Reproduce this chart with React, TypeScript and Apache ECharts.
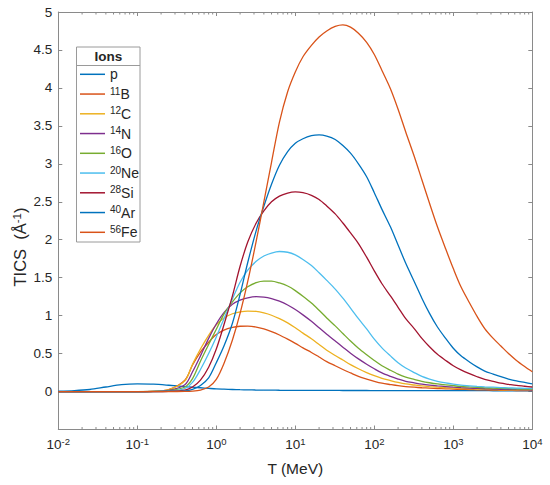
import React, { useEffect, useRef } from "react";
import * as echarts from "echarts";

// Kinetic energy T (MeV) sample points (0.1 decade apart above 0.4 MeV, 0.2 below)
const T = [0.01, 0.016, 0.025, 0.04, 0.063, 0.1, 0.16, 0.25, 0.4, 0.5, 0.63, 0.8, 1, 1.25, 1.6, 2, 2.5, 3.2, 4, 5, 6.3, 8, 10, 12.5, 16, 20, 25, 32, 40, 50, 63, 80, 100, 125, 160, 200, 250, 320, 400, 500, 630, 800, 1000, 1250, 1600, 2000, 2500, 3200, 4000, 5000, 6300, 8000, 10000];

const ionMass = ["", "11", "12", "14", "16", "20", "28", "40", "56"];
const ionSymbol = ["p", "B", "C", "N", "O", "Ne", "Si", "Ar", "Fe"];
const ionColors = ["#0072BD", "#D95319", "#EDB120", "#7E2F8E", "#77AC30", "#4DBEEE", "#A2142F", "#0072BD", "#D95319"];

// TICS (1/Å)
const ticsP = [0.005, 0.012, 0.027, 0.06, 0.09, 0.1, 0.097, 0.083, 0.065, 0.057, 0.05, 0.042, 0.035, 0.031, 0.027, 0.024, 0.022, 0.02, 0.019, 0.018, 0.017, 0.0165, 0.016, 0.0155, 0.015, 0.015, 0.015, 0.0145, 0.014, 0.014, 0.014, 0.0135, 0.013, 0.013, 0.013, 0.0125, 0.012, 0.012, 0.012, 0.012, 0.012, 0.0115, 0.011, 0.011, 0.011, 0.011, 0.011, 0.0105, 0.01, 0.01, 0.01, 0.01, 0.01];
const ticsB = [0, 0, 0, 0, 0, 0, 0.003, 0.025, 0.15, 0.35, 0.52, 0.65, 0.75, 0.81, 0.845, 0.86, 0.862, 0.85, 0.825, 0.79, 0.745, 0.69, 0.635, 0.575, 0.515, 0.455, 0.395, 0.34, 0.29, 0.245, 0.2, 0.165, 0.135, 0.11, 0.092, 0.077, 0.066, 0.057, 0.05, 0.045, 0.04, 0.036, 0.032, 0.029, 0.026, 0.023, 0.021, 0.019, 0.017, 0.015, 0.014, 0.013, 0.012];
const ticsC = [0, 0, 0, 0, 0, 0, 0.003, 0.025, 0.14, 0.36, 0.56, 0.74, 0.88, 0.97, 1.025, 1.05, 1.06, 1.055, 1.035, 1.005, 0.96, 0.905, 0.84, 0.77, 0.695, 0.62, 0.545, 0.475, 0.415, 0.355, 0.3, 0.25, 0.21, 0.175, 0.145, 0.12, 0.1, 0.086, 0.074, 0.065, 0.057, 0.05, 0.045, 0.04, 0.036, 0.032, 0.029, 0.026, 0.023, 0.02, 0.018, 0.016, 0.015];
const ticsN = [0, 0, 0, 0, 0, 0, 0.002, 0.015, 0.09, 0.26, 0.47, 0.7, 0.89, 1.04, 1.15, 1.205, 1.235, 1.25, 1.245, 1.225, 1.19, 1.14, 1.08, 1.01, 0.925, 0.84, 0.755, 0.665, 0.585, 0.505, 0.43, 0.36, 0.3, 0.245, 0.2, 0.165, 0.135, 0.115, 0.098, 0.085, 0.075, 0.066, 0.058, 0.052, 0.046, 0.041, 0.037, 0.033, 0.03, 0.027, 0.024, 0.022, 0.02];
const ticsO = [0, 0, 0, 0, 0, 0, 0.001, 0.01, 0.06, 0.17, 0.4, 0.62, 0.82, 1.02, 1.18, 1.3, 1.38, 1.435, 1.455, 1.455, 1.43, 1.39, 1.33, 1.255, 1.165, 1.07, 0.97, 0.865, 0.765, 0.665, 0.57, 0.485, 0.41, 0.34, 0.28, 0.23, 0.19, 0.16, 0.135, 0.116, 0.1, 0.087, 0.077, 0.068, 0.061, 0.055, 0.049, 0.045, 0.041, 0.038, 0.035, 0.032, 0.03];
const ticsNe = [0, 0, 0, 0, 0, 0, 0.001, 0.006, 0.04, 0.12, 0.29, 0.5, 0.72, 0.96, 1.22, 1.44, 1.6, 1.715, 1.785, 1.825, 1.845, 1.835, 1.8, 1.74, 1.66, 1.565, 1.465, 1.35, 1.23, 1.1, 0.96, 0.825, 0.69, 0.575, 0.47, 0.38, 0.31, 0.25, 0.2, 0.165, 0.135, 0.113, 0.097, 0.085, 0.076, 0.068, 0.062, 0.057, 0.052, 0.048, 0.045, 0.042, 0.04];
const ticsSi = [0, 0, 0, 0, 0, 0, 0, 0.003, 0.02, 0.06, 0.15, 0.32, 0.56, 0.88, 1.26, 1.65, 1.97, 2.22, 2.38, 2.5, 2.575, 2.615, 2.63, 2.62, 2.585, 2.53, 2.445, 2.34, 2.22, 2.09, 1.95, 1.77, 1.59, 1.42, 1.26, 1.11, 0.96, 0.83, 0.7, 0.59, 0.49, 0.41, 0.34, 0.285, 0.235, 0.195, 0.16, 0.135, 0.11, 0.095, 0.08, 0.07, 0.06];
const ticsAr = [0, 0, 0, 0, 0, 0, 0, 0.001, 0.01, 0.03, 0.08, 0.18, 0.38, 0.6, 0.9, 1.28, 1.7, 2.12, 2.44, 2.73, 2.98, 3.16, 3.27, 3.33, 3.37, 3.38, 3.365, 3.32, 3.24, 3.14, 3.0, 2.83, 2.62, 2.4, 2.17, 1.93, 1.69, 1.45, 1.23, 1.03, 0.85, 0.7, 0.57, 0.47, 0.39, 0.325, 0.27, 0.23, 0.195, 0.165, 0.14, 0.12, 0.1];
const ticsFe = [0, 0, 0, 0, 0, 0, 0, 0, 0.002, 0.006, 0.02, 0.06, 0.16, 0.37, 0.68, 1.03, 1.45, 1.98, 2.5, 3.02, 3.55, 3.95, 4.21, 4.41, 4.56, 4.67, 4.75, 4.81, 4.83, 4.8, 4.72, 4.6, 4.44, 4.23, 3.99, 3.72, 3.42, 3.1, 2.79, 2.48, 2.17, 1.88, 1.62, 1.38, 1.17, 0.99, 0.83, 0.7, 0.6, 0.5, 0.41, 0.33, 0.26];

const ionValues = [ticsP, ticsB, ticsC, ticsN, ticsO, ticsNe, ticsSi, ticsAr, ticsFe];

// Axis tick definitions
const decades = [0.01, 0.1, 1, 10, 100, 1000];
const minorMultipliers = [2, 3, 4, 5, 6, 7, 8, 9];

const FONT = "'Liberation Sans', Arial, Helvetica, sans-serif";
const AXIS_COLOR = "#8a8a8a";
const TEXT_COLOR = "#262626";

export default function App() {
  const ref = useRef<HTMLDivElement>(null);

  useEffect(() => {
    const el = ref.current;
    if (!el) return;
    const chart = echarts.init(el, null, { renderer: "svg" });

    const names = ionSymbol.map((s, i) => ionMass[i] + s);
    const minorTicks: number[][] = [];
    decades.forEach((d) => minorMultipliers.forEach((m) => minorTicks.push([d * m, 0])));

    const lineSeries = names.map((name, i) => ({
      name,
      type: "line",
      data: T.map((t, j) => [t, ionValues[i][j]]),
      showSymbol: false,
      symbol: "none",
      smooth: 0.3,
      lineStyle: { color: ionColors[i], width: 1.3 },
      itemStyle: { color: ionColors[i] },
      z: 3,
    }));

    const option: any = {
      animation: false,
      backgroundColor: "#ffffff",
      grid: { left: 58.3, right: 17.7, top: 12, bottom: 55.5, containLabel: false, outerBoundsMode: "none" },
      xAxis: [
        {
          type: "log",
          logBase: 10,
          min: 0.01,
          max: 10000,
          splitNumber: 6,
          position: "bottom",
          name: "T (MeV)",
          nameLocation: "middle",
          nameGap: 31,
          nameTextStyle: { fontFamily: FONT, fontSize: 15.5, color: TEXT_COLOR },
          axisLine: { show: true, onZero: false, lineStyle: { color: AXIS_COLOR, width: 1 } },
          axisTick: { show: true, inside: true, length: 4, lineStyle: { color: AXIS_COLOR } },
          minorTick: { show: false },
          splitLine: { show: false },
          axisLabel: {
            show: true,
            margin: 7,
            showMinLabel: true,
            showMaxLabel: true,
            formatter: (v: number) => "{b|10}{s|" + Math.round(Math.log10(v)) + "}",
            rich: {
              b: { fontFamily: FONT, fontSize: 13.5, color: TEXT_COLOR, lineHeight: 16 },
              s: { fontFamily: FONT, fontSize: 9.5, color: TEXT_COLOR, verticalAlign: "top", lineHeight: 9 },
            },
          },
        },
        {
          type: "log",
          logBase: 10,
          min: 0.01,
          max: 10000,
          splitNumber: 6,
          position: "top",
          axisLine: { show: true, onZero: false, lineStyle: { color: AXIS_COLOR, width: 1 } },
          axisTick: { show: true, inside: true, length: 4, lineStyle: { color: AXIS_COLOR } },
          axisLabel: { show: false },
          splitLine: { show: false },
        },
      ],
      yAxis: [
        {
          type: "value",
          min: -0.5,
          max: 5,
          interval: 0.5,
          position: "left",
          axisLine: { show: true, onZero: false, lineStyle: { color: AXIS_COLOR, width: 1 } },
          axisTick: { show: true, inside: true, length: 4, lineStyle: { color: AXIS_COLOR } },
          splitLine: { show: false },
          axisLabel: {
            margin: 6,
            fontFamily: FONT,
            fontSize: 13.5,
            color: TEXT_COLOR,
            formatter: (v: number) => (v < 0 ? "" : String(parseFloat(v.toFixed(2)))),
          },
        },
        {
          type: "value",
          min: -0.5,
          max: 5,
          interval: 0.5,
          position: "right",
          axisLine: { show: true, onZero: false, lineStyle: { color: AXIS_COLOR, width: 1 } },
          axisTick: { show: true, inside: true, length: 4, lineStyle: { color: AXIS_COLOR } },
          splitLine: { show: false },
          axisLabel: { show: false },
        },
      ],
      legend: {
        data: names,
        orient: "vertical",
        left: 80,
        top: 66.3,
        padding: 0,
        itemGap: 3.75,
        itemWidth: 25,
        itemHeight: 1.5,
        icon: "rect",
        selectedMode: false,
        formatter: (name: string) => {
          const i = names.indexOf(name);
          return (ionMass[i] ? "{s|" + ionMass[i] + "}" : "") + "{t|" + ionSymbol[i] + "}";
        },
        textStyle: {
          fontFamily: FONT,
          fontSize: 14,
          color: TEXT_COLOR,
          lineHeight: 16,
          rich: {
            t: { fontFamily: FONT, fontSize: 14, color: TEXT_COLOR, lineHeight: 16 },
            s: { fontFamily: FONT, fontSize: 10, color: TEXT_COLOR, verticalAlign: "top", lineHeight: 8 },
          },
        },
      },
      graphic: [
        {
          type: "rect",
          shape: { x: 76.5, y: 47, width: 63.5, height: 195 },
          style: { fill: "none", stroke: "#9a9a9a", lineWidth: 1 },
          silent: true,
        },
        {
          type: "line",
          shape: { x1: 76.5, y1: 65.5, x2: 140, y2: 65.5 },
          style: { stroke: "#9a9a9a", lineWidth: 1 },
          silent: true,
        },
        {
          type: "text",
          x: 108.3,
          y: 56.5,
          style: {
            text: "Ions",
            fontFamily: FONT,
            fontSize: 13.5,
            fontWeight: "bold",
            fill: TEXT_COLOR,
            align: "center",
            verticalAlign: "middle",
            textAlign: "center",
            textVerticalAlign: "middle",
          },
          silent: true,
        },
        {
          type: "text",
          x: 20,
          y: 247,
          rotation: Math.PI / 2,
          style: {
            text: "{t|TICS  (Å}{s|-1}{t|)}",
            rich: {
              t: { fontFamily: FONT, fontSize: 16.5, fill: TEXT_COLOR, color: TEXT_COLOR, lineHeight: 18 },
              s: { fontFamily: FONT, fontSize: 11.5, fill: TEXT_COLOR, color: TEXT_COLOR, verticalAlign: "top", lineHeight: 10 },
            },
            align: "center",
            verticalAlign: "middle",
            textAlign: "center",
            textVerticalAlign: "middle",
          },
          silent: true,
        },
      ],
      series: [
        ...lineSeries,
        {
          name: "minorTicks",
          type: "custom",
          silent: true,
          xAxisIndex: 0,
          yAxisIndex: 0,
          data: minorTicks,
          encode: { x: 0, y: 1 },
          clip: false,
          z: 4,
          renderItem: (params: any, api: any) => {
            const v = api.value(0);
            const b = api.coord([v, -0.5]);
            const t = api.coord([v, 5]);
            return {
              type: "group",
              children: [
                { type: "line", shape: { x1: b[0], y1: b[1], x2: b[0], y2: b[1] - 2.5 }, style: { stroke: AXIS_COLOR, lineWidth: 1 } },
                { type: "line", shape: { x1: t[0], y1: t[1], x2: t[0], y2: t[1] + 2.5 }, style: { stroke: AXIS_COLOR, lineWidth: 1 } },
              ],
            };
          },
        },
      ],
    };

    chart.setOption(option);
    return () => chart.dispose();
  }, []);

  return (
    <div
      ref={ref}
      style={{ position: "fixed", left: 0, top: 0, width: 550, height: 485, background: "#ffffff" }}
    />
  );
}
